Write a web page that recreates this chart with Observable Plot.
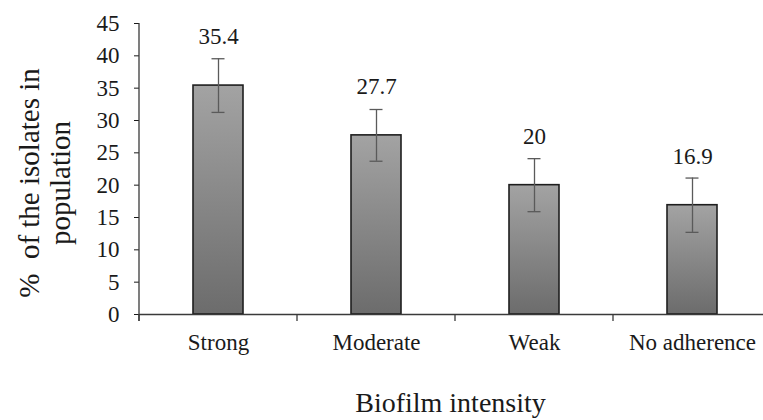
<!DOCTYPE html>
<html><head><meta charset="utf-8">
<script src="https://cdn.jsdelivr.net/npm/d3@7"></script>
<script src="https://cdn.jsdelivr.net/npm/@observablehq/plot@0.6"></script>
<style>
html,body{margin:0;padding:0;background:#fff;overflow:hidden}
</style>
</head><body><div id="chart"></div>
<script>
const categories = ["Strong", "Moderate", "Weak", "No adherence"];
const values = [35.4, 27.7, 20, 16.9];
const errors = [4.15, 4.0, 4.1, 4.2];
const yTicks = [0, 5, 10, 15, 20, 25, 30, 35, 40, 45];
const xTitle = "Biofilm intensity";
const yTitle = "%\u00a0 of the isolates in\npopulation";
const serif = "'Liberation Serif', 'DejaVu Serif', serif";

const data = categories.map((c, i) => ({category: c, value: values[i], err: errors[i]}));

const svgNS = "http://www.w3.org/2000/svg";
function gradientDefs() {
  const defs = document.createElementNS(svgNS, "defs");
  const g = document.createElementNS(svgNS, "linearGradient");
  g.setAttribute("id", "barGrad");
  g.setAttribute("x1", "0"); g.setAttribute("y1", "0");
  g.setAttribute("x2", "0"); g.setAttribute("y2", "1");
  [["0%", "#a3a3a3"], ["100%", "#6c6c6c"]].forEach(([o, c]) => {
    const s = document.createElementNS(svgNS, "stop");
    s.setAttribute("offset", o); s.setAttribute("stop-color", c);
    g.appendChild(s);
  });
  defs.appendChild(g);
  return defs;
}
function axisFrame(index, scales, vals, dimensions) {
  const {x, y} = scales;
  const {width, marginLeft, marginRight} = dimensions;
  const step = x.step ? x.step() : (width - marginLeft - marginRight) / categories.length;
  const bw = x.bandwidth ? x.bandwidth() : step * 0.316;
  const g = document.createElementNS(svgNS, "g");
  g.setAttribute("stroke", "#3a3a3a");
  g.setAttribute("stroke-width", "1.3");
  const line = (x1, y1, x2, y2) => {
    const l = document.createElementNS(svgNS, "line");
    l.setAttribute("x1", x1); l.setAttribute("y1", y1);
    l.setAttribute("x2", x2); l.setAttribute("y2", y2);
    g.appendChild(l);
  };
  const y0 = y(0);
  line(marginLeft, y(yTicks[yTicks.length - 1]), marginLeft, y0 + 7);
  categories.forEach(c => {
    const bx = x(c) + bw / 2 - step / 2;
    line(bx, y0, bx, y0 + 7);
  });
  return g;
}

const chart = Plot.plot({
  width: 763,
  height: 420,
  marginLeft: 139,
  marginRight: -8,
  marginTop: 23,
  marginBottom: 106,
  style: {fontFamily: serif, fontSize: "23px", color: "#1a1a1a", background: "#fff"},
  x: {domain: categories, paddingInner: 0.684, paddingOuter: 0.342, tickSize: 0, tickPadding: 19, label: null},
  y: {domain: [0, 45], ticks: yTicks, tickSize: 5, tickPadding: 15, label: null},
  marks: [
    gradientDefs,
    Plot.barY(data, {x: "category", y: "value", fill: "url(#barGrad)", stroke: "#1e1e1e", strokeWidth: 1.6}),
    Plot.ruleY([0], {stroke: "#3a3a3a", strokeWidth: 1.3}),
    axisFrame,
    Plot.ruleX(data, {x: "category", y1: d => d.value - d.err, y2: d => d.value + d.err, stroke: "#5a5a5a", strokeWidth: 1.3}),
    Plot.tickY(data, {x: "category", y: d => d.value + d.err, inset: 18.5, stroke: "#5a5a5a", strokeWidth: 1.3}),
    Plot.tickY(data, {x: "category", y: d => d.value - d.err, inset: 18.5, stroke: "#5a5a5a", strokeWidth: 1.3}),
    Plot.text(data, {x: "category", y: "value", text: d => String(d.value), lineAnchor: "top", dy: -58, fontSize: 23, fontFamily: serif, fill: "#1a1a1a"}),
    Plot.text([yTitle], {frameAnchor: "left", text: d => d, rotate: -90, lineAnchor: "top", textAnchor: "middle", dx: -123, dy: 14, fontSize: 29, fontFamily: serif, lineHeight: 1.07, fill: "#1a1a1a"}),
    Plot.text([xTitle], {frameAnchor: "bottom", text: d => d, lineAnchor: "top", dx: -5, dy: 78, fontSize: 28, fontFamily: serif, fill: "#1a1a1a"})
  ]
});
document.getElementById("chart").appendChild(chart);
</script>
</body></html>
